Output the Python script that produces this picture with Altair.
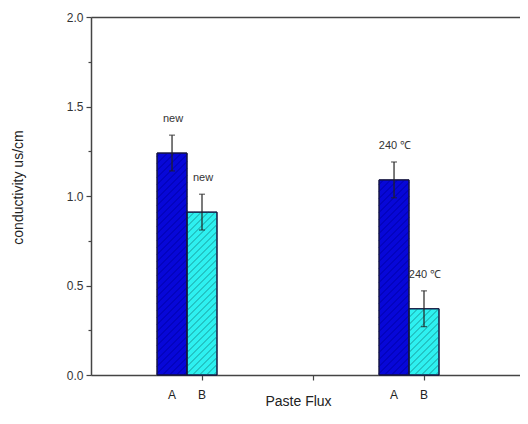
import altair as alt
import pandas as pd

# ---- data ----
groups = ["new", "new", "240 ℃", "240 ℃"]
pastes = ["A", "B", "A", "B"]
values = [1.24, 0.91, 1.09, 0.37]
errors = [0.10, 0.10, 0.10, 0.10]
group_index = [0, 0, 1, 1]
y_major = [0.0, 0.5, 1.0, 1.5, 2.0]
y_minor = [0.25, 0.75, 1.25, 1.75]
x_ticks = [1, 2, 3]

# ---- layout constants ----
W, H = 429, 358
XMAX = 429 / 111
YMAX = 2.0
BAR = 0.27
FONT = "Liberation Sans"

rows = []
for g, p, v, e, gi in zip(groups, pastes, values, errors, group_index):
    c = 1 + 2 * gi - (BAR if p == "A" else 0)
    rows.append(dict(paste=p, label=g, value=v, lo=v - e, hi=v + e,
                     xc=c, x0=c - BAR / 2, x1=c + BAR / 2))
df = pd.DataFrame(rows)

# hatch lines (///) derived from the bars
px, py = W / XMAX, H / YMAX
step = 7.0
hatch = []
for r in rows:
    w = (r["x1"] - r["x0"]) * px
    h = r["value"] * py
    k = -w + step / 2
    while k < h:
        us, ue = max(0.0, -k), min(w, h - k)
        if ue > us:
            hatch.append(dict(paste=r["paste"],
                              hx=r["x0"] + us / px, hx2=r["x0"] + ue / px,
                              hy=(us + k) / py, hy2=(ue + k) / py))
        k += step
hdf = pd.DataFrame(hatch)
mdf = pd.DataFrame({"m": y_minor})

xs = alt.Scale(domain=[0, XMAX], nice=False, zero=False)
ys = alt.Scale(domain=[0, YMAX], nice=False, zero=False)

x_axis = alt.Axis(values=x_ticks, labels=False, tickSize=5, tickColor="#444",
                  domainColor="#444", domainWidth=1.5, tickWidth=1.2, grid=False,
                  title="Paste Flux", titleFont=FONT, titleFontSize=14,
                  titleFontWeight="normal", titleColor="#222",
                  titleX=207, titleY=26, titleBaseline="middle", titleAlign="center")
y_axis = alt.Axis(orient="left", values=y_major, format=".1f",
                  tickSize=5, tickColor="#444", tickWidth=1.2,
                  domainColor="#444", domainWidth=1.5,
                  grid=False, labelFont=FONT, labelFontSize=12, labelColor="#333",
                  labelPadding=3,
                  title="conductivity us/cm", titleFont=FONT, titleFontSize=14,
                  titleFontWeight="normal", titleColor="#222",
                  titleX=-73, titleY=170, titleAngle=-90, titleAlign="center",
                  titleBaseline="middle")
y_minor_axis = alt.Axis(orient="left", values=y_minor, labels=False, tickSize=3,
                        tickColor="#444", tickWidth=1.2, domain=False, grid=False,
                        title=None)
top_axis = alt.Axis(orient="top", labels=False, ticks=False, domainColor="#444",
                    domainWidth=1.5, grid=False, title=None)

base = alt.Chart(df)

bars = base.mark_bar(stroke="#151540", strokeWidth=1).encode(
    x=alt.X("x0:Q", scale=xs, axis=x_axis),
    x2="x1:Q",
    y=alt.Y("value:Q", scale=ys, axis=y_axis),
    y2=alt.Y2(datum=0),
    color=alt.Color("paste:N", scale=alt.Scale(domain=["A", "B"], range=["#0707d8", "#2ef0f0"]),
                    legend=None),
)

minor = alt.Chart(mdf).mark_point(opacity=0).encode(
    x=alt.X(datum=0, scale=xs, axis=None),
    y=alt.Y("m:Q", scale=ys, axis=y_minor_axis),
)

hatch_layer = alt.Chart(hdf).mark_rule(strokeWidth=1).encode(
    x=alt.X("hx:Q", scale=xs, axis=None),
    x2="hx2:Q",
    y=alt.Y("hy:Q", scale=ys, axis=None),
    y2="hy2:Q",
    color=alt.Color("paste:N", scale=alt.Scale(domain=["A", "B"], range=["#0000a8", "#1a9c9c"]),
                    legend=None),
)

outline = base.mark_bar(fillOpacity=0, stroke="#151540", strokeWidth=1).encode(
    x=alt.X("x0:Q", scale=xs, axis=top_axis),
    x2="x1:Q",
    y=alt.Y("value:Q", scale=ys, axis=None),
    y2=alt.Y2(datum=0),
)

err = base.mark_rule(color="#222", strokeWidth=1.2).encode(
    x=alt.X("xc:Q", scale=xs, axis=None),
    y=alt.Y("lo:Q", scale=ys, axis=None),
    y2="hi:Q",
)

caps = base.transform_fold(["lo", "hi"], as_=["end", "yv"]).mark_tick(
    orient="horizontal", size=6, thickness=1.2, color="#222").encode(
    x=alt.X("xc:Q", scale=xs, axis=None),
    y=alt.Y("yv:Q", scale=ys, axis=None),
)

top_labels = base.mark_text(font=FONT, fontSize=11, color="#333", baseline="bottom",
                            dy=-11, dx=1).encode(
    x=alt.X("xc:Q", scale=xs, axis=None),
    y=alt.Y("hi:Q", scale=ys, axis=None),
    text="label:N",
)

ab_labels = base.mark_text(font=FONT, fontSize=12, color="#222", baseline="middle",
                           dy=20).encode(
    x=alt.X("xc:Q", scale=xs, axis=None),
    y=alt.Y(datum=0, scale=ys, axis=None),
    text="paste:N",
)

chart = alt.layer(bars, minor, hatch_layer, outline, err, caps, top_labels, ab_labels).resolve_axis(
    x="independent", y="independent"
).resolve_scale(color="independent").properties(
    width=W, height=H,
    autosize=alt.AutoSizeParams(type="none"),
    padding={"left": 83, "top": 9, "right": 0, "bottom": 36},
).configure_view(stroke=None).configure(background="white")

chart.save("out.html", embed_options={"renderer": "svg", "actions": False})
